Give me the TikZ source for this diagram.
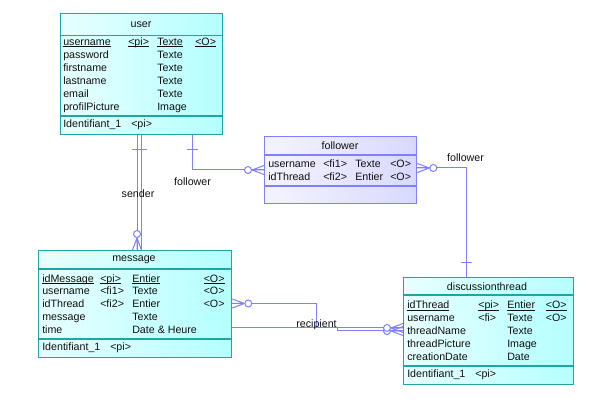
\documentclass[tikz,border=0pt]{standalone}
\usepackage{fontspec}
\setmainfont{Liberation Sans}
\usetikzlibrary{calc,backgrounds}
\definecolor{entline}{HTML}{1FA5A5}
\definecolor{entlo}{HTML}{E8FFFF}
\definecolor{enthi}{HTML}{B4FFFF}
\definecolor{assline}{HTML}{8080FF}
\definecolor{asslo}{HTML}{F4F4FF}
\definecolor{asshi}{HTML}{D8D8FF}
\definecolor{relc}{HTML}{7F7FFF}
\definecolor{txt}{HTML}{101010}
\newcommand{\ulin}[1]{\setbox0\hbox{#1}\rlap{\rule[-1.4pt]{\wd0}{0.5pt}}\box0}
\tikzset{
  ent/.style 2 args={draw=entline, line width=1pt, left color=entlo, right color=enthi,
    anchor=north west, inner sep=0pt, minimum width=#1*0.75pt, minimum height=#2*0.75pt},
  ass/.style 2 args={ent={#1}{#2}, draw=assline, left color=asslo, right color=asshi},
  sepl/.style={draw=entline, line width=1pt},
  sepa/.style={draw=assline, line width=1pt},
  att/.style={anchor=mid west, inner sep=0pt, text=txt},
  ttl/.style={inner sep=0pt, text=txt},
  lbl/.style={inner sep=0pt, text=txt},
  rel/.style={draw=relc, line width=0.75pt},
  many/.pic={\draw[rel] (0,-4.5) -- (12,0) -- (0,4.5) (0,0) -- (12,0);
    \draw[rel, fill=white] (16,0) circle[radius=3.5];},
  one/.pic={\draw[rel] (14,-5.5) -- (14,5.5);},
}
\begin{document}
\begin{tikzpicture}[x=0.75pt, y=-0.75pt, font=\fontsize{8}{9.6}\selectfont]
\useasboundingbox (0,0) rectangle (607,409);

% user
\node[ent={162}{121}] (user) at (60,13) {};
\node[ttl] (user-t) at (141,24.5) {user};
\draw[sepl] ($(user.north west)+(0,22.5)$) -- ($(user.north east)+(0,22.5)$);
\draw[sepl] ($(user.north west)+(0,103)$) -- ($(user.north east)+(0,103)$);
\node[att] (user-a0) at (63,41.5) {\ulin{username}};
\node[att] (user-k0) at (128,41.5) {\ulin{<pi>}};
\node[att] (user-d0) at (157,41.5) {\ulin{Texte}};
\node[att] (user-o0) at (195,41.5) {\ulin{<O>}};
\foreach \nm/\ty [count=\i] in {password/Texte, firstname/Texte, lastname/Texte, email/Texte, profilPicture/Image}{
  \node[att] (user-a\i) at (63,{41.5+13*\i}) {\nm};
  \node[att] (user-d\i) at (157,{41.5+13*\i}) {\ty};
}
\node[att] (user-id) at (63,124) {Identifiant\_1};
\node[att] (user-idk) at (131,124) {<pi>};

% follower
\node[ass={152}{67}] (follower) at (264,136) {};
\node[ttl] (follower-t) at (340,145.5) {follower};
\draw[sepa] ($(follower.north west)+(0,19)$) -- ($(follower.north east)+(0,19)$);
\draw[sepa] ($(follower.north west)+(0,50)$) -- ($(follower.north east)+(0,50)$);
\node[att] (follower-a1) at (268,164) {username};
\node[att] (follower-k1) at (323,164) {<fi1>};
\node[att] (follower-d1) at (355,164) {Texte};
\node[att] (follower-o1) at (390,164) {<O>};
\node[att] (follower-a2) at (268,176.7) {idThread};
\node[att] (follower-k2) at (323,176.7) {<fi2>};
\node[att] (follower-d2) at (355,176.7) {Entier};
\node[att] (follower-o2) at (390,176.7) {<O>};

% message
\node[ent={193}{107}] (msg) at (38,250) {};
\node[ttl] (msg-t) at (134,259.5) {message};
\draw[sepl] ($(msg.north west)+(0,19)$) -- ($(msg.north east)+(0,19)$);
\draw[sepl] ($(msg.north west)+(0,89)$) -- ($(msg.north east)+(0,89)$);
\node[att] (msg-a0) at (42,278.5) {\ulin{idMessage}};
\node[att] (msg-k0) at (100,278.5) {\ulin{<pi>}};
\node[att] (msg-d0) at (132,278.5) {\ulin{Entier}};
\node[att] (msg-o0) at (203.5,278.5) {\ulin{<O>}};
\node[att] (msg-a1) at (42,291.3) {username};
\node[att] (msg-k1) at (100,291.3) {<fi1>};
\node[att] (msg-d1) at (132,291.3) {Texte};
\node[att] (msg-o1) at (203.5,291.3) {<O>};
\node[att] (msg-a2) at (42,304) {idThread};
\node[att] (msg-k2) at (100,304) {<fi2>};
\node[att] (msg-d2) at (132,304) {Entier};
\node[att] (msg-o2) at (203.5,304) {<O>};
\node[att] (msg-a3) at (42,316.8) {message};
\node[att] (msg-d3) at (132,316.8) {Texte};
\node[att] (msg-a4) at (42,329.6) {time};
\node[att] (msg-d4) at (132,329.6) {Date \& Heure};
\node[att] (msg-id) at (42,347) {Identifiant\_1};
\node[att] (msg-idk) at (110,347) {<pi>};

% discussionthread
\node[ent={170}{107}] (thread) at (403,277) {};
\node[ttl] (thread-t) at (487,286.5) {discussionthread};
\draw[sepl] ($(thread.north west)+(0,18)$) -- ($(thread.north east)+(0,18)$);
\draw[sepl] ($(thread.north west)+(0,89)$) -- ($(thread.north east)+(0,89)$);
\node[att] (thread-a0) at (407,305) {\ulin{idThread}};
\node[att] (thread-k0) at (478,305) {\ulin{<pi>}};
\node[att] (thread-d0) at (507,305) {\ulin{Entier}};
\node[att] (thread-o0) at (545.5,305) {\ulin{<O>}};
\node[att] (thread-a1) at (407,318) {username};
\node[att] (thread-k1) at (478,318) {<fi>};
\node[att] (thread-d1) at (507,318) {Texte};
\node[att] (thread-o1) at (545.5,318) {<O>};
\foreach \nm/\ty [count=\i from 2] in {threadName/Texte, threadPicture/Image, creationDate/Date}{
  \node[att] (thread-a\i) at (407,{305+13*\i}) {\nm};
  \node[att] (thread-d\i) at (507,{305+13*\i}) {\ty};
}
\node[att] (thread-id) at (407,374) {Identifiant\_1};
\node[att] (thread-idk) at (475,374) {<pi>};

% references
\begin{scope}[on background layer]
% sender
\draw[rel] ($(user.south west)+(77,0)$) coordinate (snd-a) -- ($(msg.north west)+(99,0)$) coordinate (snd-b);
\pic[rotate=-90] at (snd-a) {one};
\pic[rotate=90] at (snd-b) {many};
% recipient
\draw[rel] ($(user.south west)+(81,0)$) coordinate (rcp-a) |- ($(thread.north west)+(-66,51)$) coordinate (rcp-m)
  |- ($(thread.north west)+(0,54)$) coordinate (rcp-b);
\pic[rotate=-90] at (rcp-a) {one};
\pic[rotate=180] at (rcp-b) {many};
% message - discussionthread
\draw[rel] ($(msg.north east)+(0,53.5)$) coordinate (thr-a) -| ($(thread.north west)+(-87,51)$)
  -- ($(thread.north west)+(0,51)$) coordinate (thr-b);
\pic at (thr-a) {many};
\pic[rotate=180] at (thr-b) {many};
% follower - user
\draw[rel] ($(user.south west)+(132,0)$) coordinate (fu-a) |- ($(follower.north west)+(0,34)$) coordinate (fu-b);
\pic[rotate=-90] at (fu-a) {one};
\pic[rotate=180] at (fu-b) {many};
% follower - discussionthread
\draw[rel] ($(thread.north west)+(63,0)$) coordinate (ft-a) |- ($(follower.north east)+(0,32)$) coordinate (ft-b);
\pic[rotate=90] at (ft-a) {one};
\pic at (ft-b) {many};
\end{scope}

\node[lbl] (snd-l) at ($(snd-a)+(1,58)$) {sender};
\node[lbl] (rcp-l) at ($(rcp-m)+(-20.5,-3)$) {recipient};
\node[lbl] (fu-l) at ($(fu-a)+(0.5,46)$) {follower};
\node[lbl] (ft-l) at ($(ft-a)+(-0.5,-119)$) {follower};
\end{tikzpicture}
\end{document}
